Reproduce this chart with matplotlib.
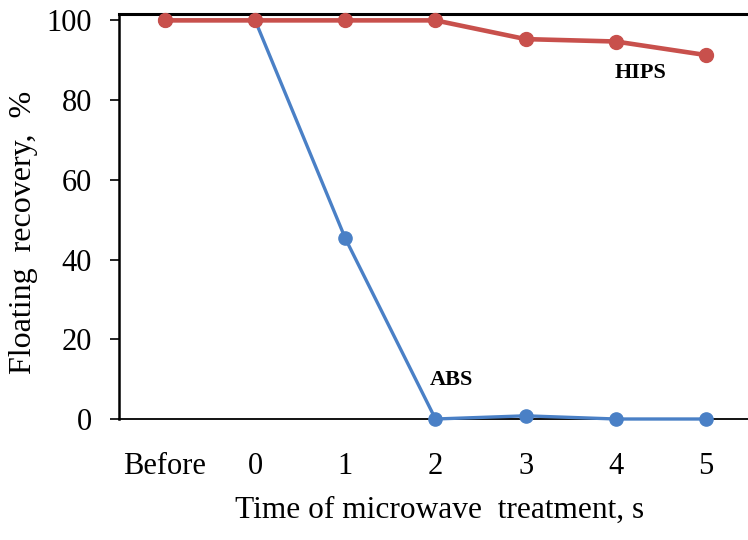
import numpy as np
import matplotlib.pyplot as plt

categories = ['Before', '0', '1', '2', '3', '4', '5']
hips = [100, 100, 100, 100, 95.3, 94.7, 91.3]
abs_ = [100, 100, 45.3, 0, 0.8, 0, 0]

red = '#C8504C'
blue = '#4A80C6'

plt.rcParams['font.family'] = ['Liberation Serif', 'DejaVu Serif']

fig = plt.figure(figsize=(7.48, 5.40), dpi=100)
ax = fig.add_axes([119 / 748, 121 / 540, 629 / 748, 405 / 540])

x = np.arange(len(categories))
ax.plot(x, abs_, color=blue, lw=2.4, marker='o', ms=9.5, clip_on=False, zorder=3)
ax.plot(x, hips, color=red, lw=3.3, marker='o', ms=10, clip_on=False, zorder=4)

ax.set_xlim(-0.51, 6.466)
ax.set_ylim(0, 101.6)
ax.set_yticks(np.arange(0, 101, 20))
ax.set_xticks(x)
ax.set_xticklabels(categories)

ax.spines['right'].set_visible(False)
ax.spines['top'].set_linewidth(2.2)
ax.spines['left'].set_linewidth(1.8)
ax.spines['bottom'].set_linewidth(1.3)

ax.tick_params(axis='y', direction='out', length=6.5, width=1.2, pad=13, labelsize=22)
ax.tick_params(axis='x', length=0, pad=24, labelsize=22)

ax.set_xlabel('Time of microwave  treatment, s', fontsize=22.6)
ax.set_ylabel('Floating  recovery,  %', fontsize=23)
ax.xaxis.set_label_coords(0.51, -0.19)
ax.yaxis.set_label_coords(-0.128, 0.462)

ax.text(5.27, 86.8, 'HIPS', fontsize=16, fontweight='bold', ha='center', va='center')
ax.text(3.18, 9.8, 'ABS', fontsize=16, fontweight='bold', ha='center', va='center')

fig.savefig('out.png', dpi=100)
